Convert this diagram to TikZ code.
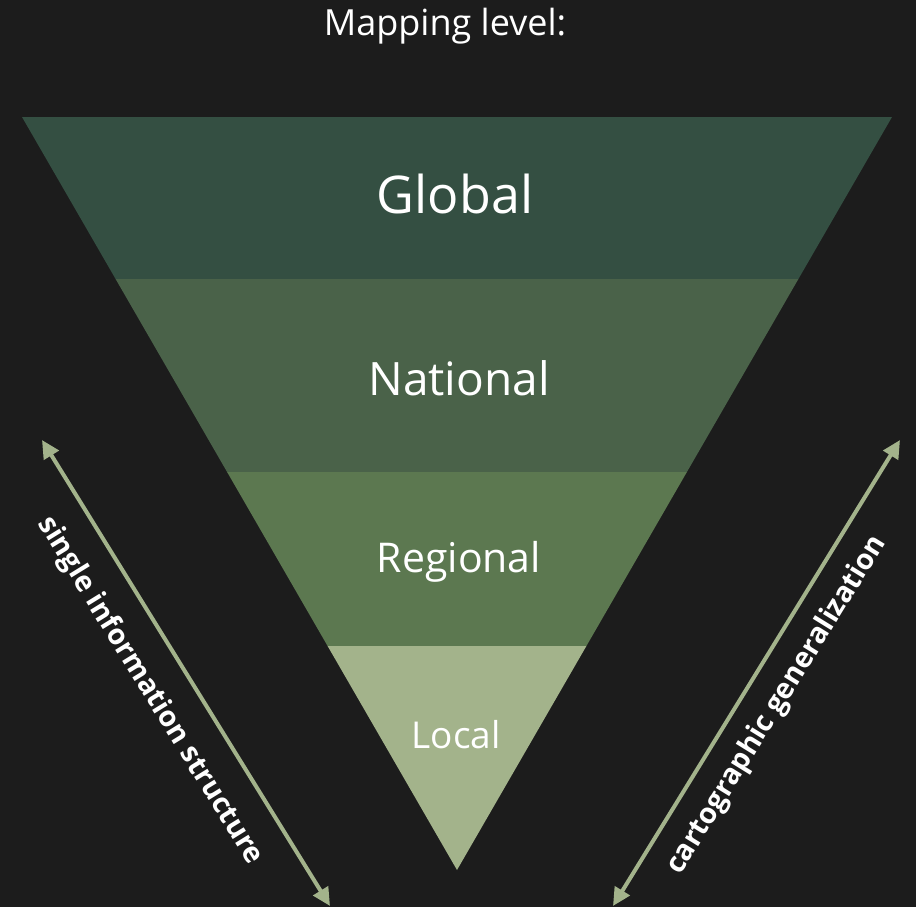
\documentclass[tikz,border=0pt]{standalone}
\usepackage{fontspec}
\setmainfont{Open Sans}
\usetikzlibrary{arrows.meta}
\definecolor{bg}{HTML}{1C1C1C}
\definecolor{cglobal}{HTML}{344F42}
\definecolor{cnational}{HTML}{4A6249}
\definecolor{cregional}{HTML}{5C7850}
\definecolor{clocal}{HTML}{A3B38B}
\definecolor{carrow}{HTML}{A3B38B}
\tikzset{
  band/.style={draw=none},
  lvl/.style={text=white, inner sep=0pt, anchor=center},
  sidearrow/.style={carrow, line width=4pt, {Triangle[length=18pt,width=17pt]}-{Triangle[length=18pt,width=17pt]}},
  sidelabel/.style={text=white, font=\fontsize{28.5}{32}\selectfont\bfseries, inner sep=0pt}
}
\begin{document}
\begin{tikzpicture}[x=1pt,y=-1pt]
\fill[bg] (0,0) rectangle (916,907);
\useasboundingbox (0,0) rectangle (916,907);
\coordinate (TL) at (22,117);
\coordinate (TR) at (892,117);
\coordinate (B) at (457,870);
\coordinate (L1) at (115.6,279); \coordinate (R1) at (798.4,279);
\coordinate (L2) at (227.1,472); \coordinate (R2) at (686.9,472);
\coordinate (L3) at (327.6,646); \coordinate (R3) at (586.4,646);
\fill[cglobal] (TL) -- (TR) -- (R1) -- (L1) -- cycle;
\fill[cnational] (L1) -- (R1) -- (R2) -- (L2) -- cycle;
\fill[cregional] (L2) -- (R2) -- (R3) -- (L3) -- cycle;
\fill[clocal] (L3) -- (R3) -- (B) -- cycle;
\node[lvl, font=\fontsize{36}{40}\selectfont] (title) at (445,26) {Mapping level:};
\node[lvl, font=\fontsize{52}{58}\selectfont] (global) at (455,194) {Global};
\node[lvl, font=\fontsize{46}{52}\selectfont] (national) at (459,378) {National};
\node[lvl, font=\fontsize{41}{46}\selectfont] (regional) at (459,562) {Regional};
\node[lvl, font=\fontsize{37}{42}\selectfont] (local) at (456,735) {Local};
\coordinate (a1) at (42,440);
\coordinate (a2) at (330,906);
\coordinate (b1) at (900,440);
\coordinate (b2) at (613,906);
\draw[sidearrow] (a2) -- (a1);
\draw[sidearrow] (b2) -- (b1);
\node[sidelabel, rotate=-58.3] (leftlab) at (150,691) {single information structure};
\node[sidelabel, rotate=58.3] (rightlab) at (777,705) {cartographic generalization};
\end{tikzpicture}
\end{document}
